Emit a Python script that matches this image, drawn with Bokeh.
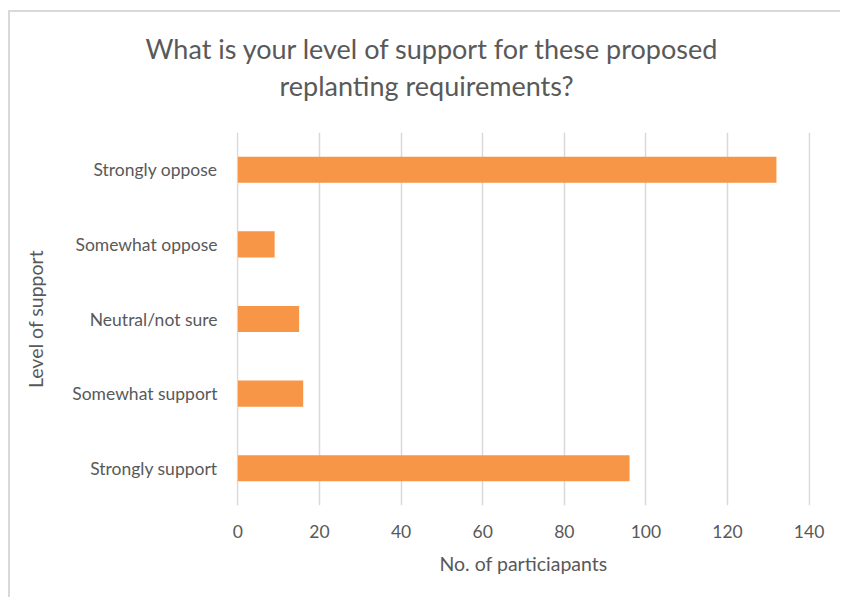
from bokeh.plotting import figure
from bokeh.models import ColumnDataSource, FactorRange, Range1d, Title, FixedTicker
from bokeh.embed import file_html
from bokeh.resources import INLINE

categories = ["Strongly oppose", "Somewhat oppose", "Neutral/not sure", "Somewhat support", "Strongly support"]
counts = [132, 9, 15, 16, 96]
x_ticks = [0, 20, 40, 60, 80, 100, 120, 140]
title_lines = ["What is your level of support for these proposed", "replanting requirements?"]

FONT = "Lato"
TEXT = "#595959"
LBL = "17.5px"
AXT = "19.5px"

src = ColumnDataSource(dict(cat=categories, n=counts))

p = figure(width=832, height=587, output_backend="svg", toolbar_location=None,
           y_range=FactorRange(*reversed(categories)), x_range=Range1d(-0.35, 140.35),
           min_border_left=226, min_border_right=32, min_border_top=120, min_border_bottom=94,
           outline_line_color=None, background_fill_color="white", border_fill_color="white")
p.margin = (10, 0, 0, 8)
p.styles = {"border-left": "2px solid #d9d9d9", "border-top": "2px solid #d9d9d9"}

p.hbar(y="cat", right="n", left=0, height=0.35, source=src, color="#F79646", line_color=None)

p.xaxis.ticker = FixedTicker(ticks=x_ticks)
p.xgrid.ticker = FixedTicker(ticks=x_ticks)
p.xgrid.grid_line_color = "#D9D9D9"
p.xgrid.grid_line_width = 1.5
p.ygrid.grid_line_color = None

for ax in (p.xaxis[0], p.yaxis[0]):
    ax.axis_line_color = None
    ax.major_tick_line_color = None
    ax.minor_tick_line_color = None
    ax.major_tick_out = 0
    ax.major_tick_in = 0
    ax.minor_tick_out = 0
    ax.major_label_text_font = FONT
    ax.major_label_text_font_size = LBL
    ax.major_label_text_color = TEXT
    ax.axis_label_text_font = FONT
    ax.axis_label_text_font_size = AXT
    ax.axis_label_text_color = TEXT
    ax.axis_label_text_font_style = "normal"

p.xaxis.axis_label = "No. of particiapants"
p.xaxis.major_label_standoff = 19
p.xaxis.axis_label_standoff = 11
p.yaxis.axis_label = "Level of support"
p.yaxis.major_label_standoff = 19
p.yaxis.axis_label_standoff = 22

p.title = None
offsets = [-91, 43]
standoffs = [-58, 62]
for i in (1, 0):
    p.add_layout(Title(text=title_lines[i], align="left", offset=offsets[i], standoff=standoffs[i],
                       text_font=FONT, text_font_size="27px", text_color=TEXT,
                       text_font_style="normal"), "above")

open("out.html", "w").write(file_html(p, INLINE))
